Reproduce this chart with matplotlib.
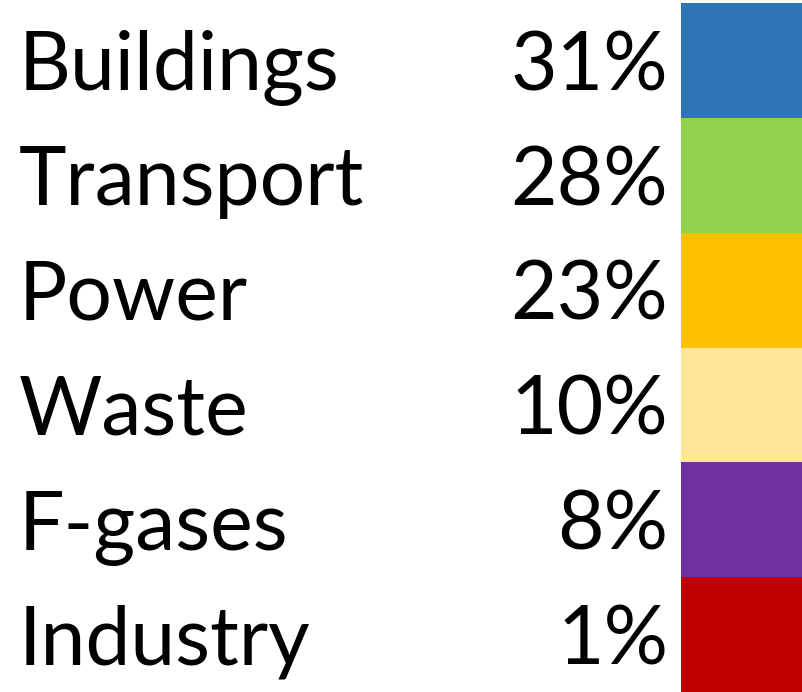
import matplotlib.pyplot as plt

sectors = ['Buildings', 'Transport', 'Power', 'Waste', 'F-gases', 'Industry']
shares = [31, 28, 23, 10, 8, 1]
colors = ['#2e75b6', '#92d050', '#ffc000', '#ffe699', '#7030a0', '#c00000']

fig = plt.figure(figsize=(8.02, 6.92), dpi=100)
# axes spans the figure, x in pixels, y in rows
ax = fig.add_axes([0, 0, 1, 689 / 692])
ax.set_xlim(0, 802)
ax.set_ylim(len(sectors) - 0.5, -0.5)
ax.axis('off')

rows = range(len(sectors))
ax.barh(rows, [121] * len(sectors), left=681, height=1.0, color=colors)

for i, (name, pct) in enumerate(zip(sectors, shares)):
    ax.text(19, i + 0.26, name, fontsize=58, family='Lato', va='baseline', ha='left')
    ax.text(668, i + 0.26, f'{pct}%', fontsize=58, family='Lato', va='baseline', ha='right')

fig.savefig('out.png', dpi=100)
